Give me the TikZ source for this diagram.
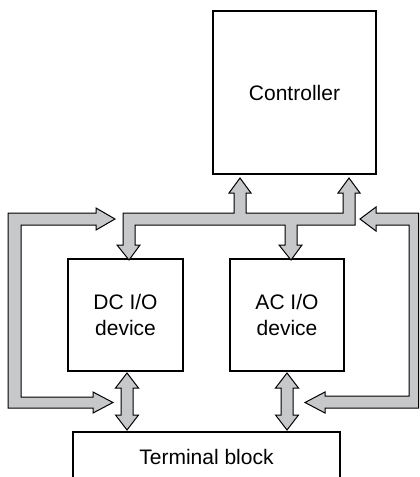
\documentclass[tikz,border=0pt]{standalone}
\usepackage{fontspec}
\setmainfont{Liberation Sans}
\definecolor{busgray}{RGB}{199,200,202}
\tikzset{
  unit/.style={draw,line width=0.6pt,inner sep=0pt,align=center,
    font=\fontsize{10.5}{13}\selectfont},
  fatarrow/.style={draw,fill=busgray,line width=0.5pt,line join=miter}
}
\begin{document}
\begin{tikzpicture}[x=0.5pt,y=-0.5pt]
  \useasboundingbox (0,0) rectangle (419,477);
  \clip (0,0) rectangle (419,477);
  \node[unit,minimum width=81.5pt,minimum height=81.5pt] (ctrl) at (294.5,92.5) {Controller};
  \node[unit,minimum width=57.5pt,minimum height=56pt] (dcio) at (125.5,315) {DC I/O\\device};
  \node[unit,minimum width=57pt,minimum height=56pt] (acio) at (287,315) {AC I/O\\device};
  \node[unit,minimum width=133.5pt,minimum height=25pt] (term) at (206.5,457) {Terminal block};
  % Bus from the controller to both I/O devices.
  \draw[fatarrow] (129,260) -- (140,245) -- (135,245) -- (135,225) -- (285,225)
    -- (285,245) -- (279,245) -- (291,260) -- (302,245) -- (297,245) -- (297,225)
    -- (355,225) -- (355,193) -- (360,193) -- (349,178) -- (338,193) -- (343,193)
    -- (343,213) -- (246,213) -- (246,193) -- (251,193) -- (240,178) -- (229,193)
    -- (234,193) -- (234,213) -- (123,213) -- (123,245) -- (117,245) -- cycle;
  % Return paths from the terminal side.
  \draw[fatarrow] (8,408) -- (8,213) -- (96,213) -- (96,208) -- (115,219)
    -- (96,230) -- (96,225) -- (21,225) -- (21,397) -- (93,397) -- (93,392)
    -- (113,402.5) -- (93,413) -- (93,408) -- cycle;
  \draw[fatarrow] (418.5,213) -- (418.5,408) -- (325,408) -- (325,413)
    -- (305,402.5) -- (325,392) -- (325,396) -- (409,396) -- (409,225)
    -- (376,225) -- (376,231) -- (360,219) -- (376,207) -- (376,213) -- cycle;
  % Device to terminal block.
  \foreach \cx in {127,287}
    \draw[fatarrow] (\cx,373) -- ++(11.5,15) -- ++(-5.5,0) -- (\cx+6,415)
      -- ++(5.5,0) -- (\cx,430) -- ++(-11.5,-15) -- ++(5.5,0) -- (\cx-6,388)
      -- ++(-5.5,0) -- cycle;
\end{tikzpicture}
\end{document}
